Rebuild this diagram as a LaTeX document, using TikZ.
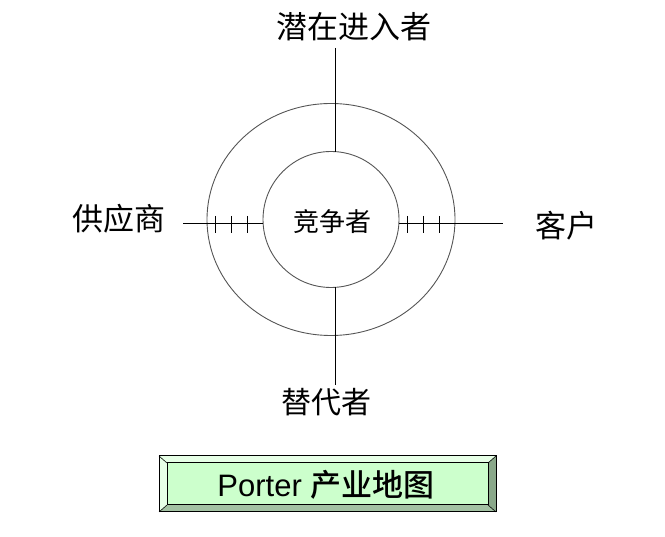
\documentclass[tikz,border=0pt]{standalone}
\usepackage{fontspec}
\newfontfamily\cjk{Noto Sans CJK SC}
\newfontfamily\cjkm{Noto Sans CJK SC Medium}
\newfontfamily\arialf{Liberation Sans}
\definecolor{face}{HTML}{CCFFCC}
\definecolor{lite}{HTML}{E6FFE6}
\definecolor{darkb}{HTML}{8AA88A}
\definecolor{midb}{HTML}{A3C2A3}
\definecolor{ring}{HTML}{555555}
\begin{document}
\begin{tikzpicture}[x=1pt,y=-1pt,
  lbl/.style={inner sep=0pt,font=\cjk\fontsize{30}{30}\selectfont},
  axis/.style={draw=black,line width=1pt},
  ringst/.style={draw=ring,line width=0.9pt},
  tick/.style={draw=black,line width=1pt},
  bev/.style={draw=black,line width=0.6pt}]
\useasboundingbox (0,0) rectangle (665,537);
% rings
\draw[ringst] (331,219.5) ellipse [x radius=124, y radius=116];
\node[ringst,circle,minimum size=136pt,inner sep=0pt] (inner) at (331,219.5) {};
\node[inner sep=0pt,font=\cjk\fontsize{26}{26}\selectfont] (comp) at (332,222) {竞争者};
% axes
\coordinate (topend) at (335,48);
\coordinate (topin) at (335,152);
\coordinate (botin) at (335,287);
\coordinate (botend) at (335,385);
\coordinate (lend) at (183,224);
\coordinate (lin) at (263,224);
\coordinate (rin) at (399,224);
\coordinate (rend) at (503,224);
\draw[axis] (topend) -- (topin);
\draw[axis] (botin) -- (botend);
\draw[axis] (lend) -- (lin);
\draw[axis] (rin) -- (rend);
\foreach \x in {215,231,247,407,423,439}
  \draw[tick] (\x,216) -- (\x,233);
% labels
\node[lbl,font=\cjk\fontsize{31}{31}\selectfont] (entr) at (354,27) {潜在进入者};
\node[lbl] (subst) at (326,402) {替代者};
\node[lbl,font=\cjk\fontsize{31}{31}\selectfont] (supp) at (119,219) {供应商};
\node[lbl,font=\cjk\fontsize{31}{31}\selectfont] (cust) at (566,226) {客户};
% title box
\coordinate (o1) at (159,456); \coordinate (o2) at (496,456);
\coordinate (o3) at (496,512); \coordinate (o4) at (159,512);
\coordinate (i1) at (167,463); \coordinate (i2) at (488,463);
\coordinate (i3) at (488,505); \coordinate (i4) at (167,505);
\fill[lite] (o1) -- (o2) -- (i2) -- (i1) -- cycle;
\fill[lite] (o1) -- (i1) -- (i4) -- (o4) -- cycle;
\fill[darkb] (o2) -- (o3) -- (i3) -- (i2) -- cycle;
\fill[midb] (o4) -- (o3) -- (i3) -- (i4) -- cycle;
\fill[face] (i1) rectangle (i3);
\draw[bev] (o1) -- (i1) (o2) -- (i2) (o3) -- (i3) (o4) -- (i4);
\draw[black,line width=1pt] (i1) rectangle (i3);
\draw[black,line width=1pt] (o1) rectangle (o3);
\node[inner sep=0pt] (title) at (326,485) {\arialf\fontsize{31}{31}\selectfont Porter {\cjkm 产业地图}};
\end{tikzpicture}
\end{document}
